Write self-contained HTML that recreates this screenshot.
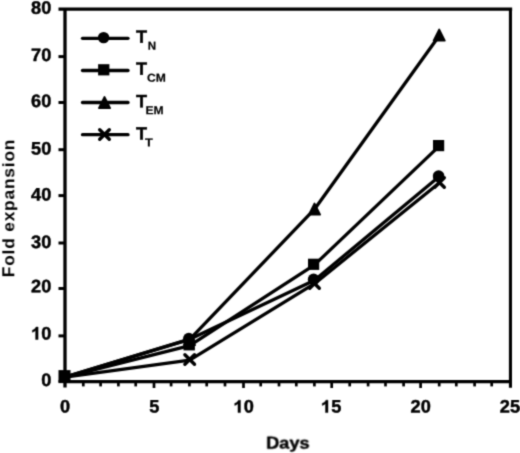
<!DOCTYPE html>
<html>
<head>
<meta charset="utf-8">
<title>Fold expansion</title>
<style>
html,body{margin:0;padding:0;background:#fff;}
body{width:520px;height:453px;overflow:hidden;}
svg{display:block;will-change:transform;opacity:0.999;}
text{font-family:"Liberation Sans",sans-serif;font-weight:bold;fill:#000;stroke:#000;stroke-width:0.45px;stroke-linejoin:round;}
.ax{font-size:17.0px;}
.sub{font-size:11.6px;}
.one{fill:#000;stroke:#000;stroke-width:0.45;stroke-linejoin:round;}
</style>
</head>
<body>
<svg width="520" height="453" viewBox="0 0 520 453">
<defs>
<filter id="soft" x="0" y="0" width="520" height="453" filterUnits="userSpaceOnUse" color-interpolation-filters="sRGB">
  <feFlood flood-color="#fff" result="bg"/>
  <feMerge result="m"><feMergeNode in="bg"/><feMergeNode in="SourceGraphic"/></feMerge>
  <feConvolveMatrix in="m" order="3" kernelMatrix="0.3 1 0.3 1 4 1 0.3 1 0.3" edgeMode="duplicate" preserveAlpha="true"/>
</filter>
</defs>
<g filter="url(#soft)">

<g stroke="#000" stroke-width="3.3" fill="none">
  <path d="M65 9V387.6"/>
  <path d="M58.5 9.15H512.15"/>
  <path stroke-width="3.1" d="M510.45 9V387.8"/>
  <path d="M63.4 381.65H512"/>
</g>
<g stroke="#000" stroke-width="3">
  <path d="M58.5 56.6H65"/>
  <path d="M58.5 102.5H65"/>
  <path d="M58.5 149.7H65"/>
  <path d="M58.5 195.6H65"/>
  <path d="M58.5 243.0H65"/>
  <path d="M58.5 288.5H65"/>
  <path d="M58.5 335.9H65"/>
  <path d="M58.5 381.6H65"/>
</g>
<g stroke="#000" stroke-width="2.7">
  <path d="M83.3 381V386.4"/>
  <path d="M100.6 381V386.4"/>
  <path d="M118.4 381V386.4"/>
  <path d="M135.7 381V386.4"/>
  <path d="M154.0 381V388"/>
  <path d="M171.1 381V386.4"/>
  <path d="M189.4 381V386.4"/>
  <path d="M206.7 381V386.4"/>
  <path d="M225.0 381V386.4"/>
  <path d="M243.5 381V388"/>
  <path d="M260.7 381V386.4"/>
  <path d="M279.0 381V386.4"/>
  <path d="M296.3 381V386.4"/>
  <path d="M314.4 381V386.4"/>
  <path d="M331.7 381V388"/>
  <path d="M349.7 381V386.4"/>
  <path d="M368.1 381V386.4"/>
  <path d="M385.5 381V386.4"/>
  <path d="M403.6 381V386.4"/>
  <path d="M420.6 381V388"/>
  <path d="M439.2 381V386.4"/>
  <path d="M456.3 381V386.4"/>
  <path d="M474.6 381V386.4"/>
  <path d="M491.7 381V386.4"/>
</g>
<g>
<text class="ax" style="font-size:18.0px;letter-spacing:0.248px" transform="translate(30.95 13.85) rotate(0.03) scale(1.01 1)">80</text>
<text class="ax" style="font-size:18.0px;letter-spacing:0.248px" transform="translate(30.95 61.10) rotate(0.03) scale(1.01 1)">70</text>
<text class="ax" style="font-size:18.0px;letter-spacing:0.248px" transform="translate(30.95 107.10) rotate(0.03) scale(1.01 1)">60</text>
<text class="ax" style="font-size:18.0px;letter-spacing:0.248px" transform="translate(30.95 154.60) rotate(0.03) scale(1.01 1)">50</text>
<text class="ax" style="font-size:18.0px;letter-spacing:0.248px" transform="translate(30.95 200.60) rotate(0.03) scale(1.01 1)">40</text>
<text class="ax" style="font-size:18.0px;letter-spacing:0.248px" transform="translate(30.95 248.10) rotate(0.03) scale(1.01 1)">30</text>
<text class="ax" style="font-size:18.0px;letter-spacing:0.248px" transform="translate(30.95 292.35) rotate(0.03) scale(1.01 1)">20</text>
<text class="ax" style="font-size:18.0px;letter-spacing:0.248px" transform="translate(30.95 339.50) rotate(0.03) scale(1.01 1)"><tspan style="fill:none;stroke:none">1</tspan>0</text>
<path class="one" transform="translate(30.95 339.50) scale(0.00888 -0.00846)" d="M806 0H525V1059Q371 915 162 846V1101Q272 1137 401 1237.5Q530 1338 578 1472H806Z" style="stroke-width:51.2"/>
<text class="ax" style="font-size:18.0px;letter-spacing:0.248px" transform="translate(41.31 385.90) rotate(0.03) scale(1.01 1)">0</text>
</g>
<g>
<text class="ax" style="font-size:18.0px;letter-spacing:0.248px" transform="translate(60.05 412.60) rotate(0.03) scale(1.01 1)">0</text>
<text class="ax" style="font-size:18.0px;letter-spacing:0.248px" transform="translate(149.37 412.60) rotate(0.03) scale(1.01 1)">5</text>
<text class="ax" style="font-size:18.0px;letter-spacing:0.248px" transform="translate(233.31 412.60) rotate(0.03) scale(1.01 1)"><tspan style="fill:none;stroke:none">1</tspan>0</text>
<path class="one" transform="translate(233.31 412.60) scale(0.00888 -0.00846)" d="M806 0H525V1059Q371 915 162 846V1101Q272 1137 401 1237.5Q530 1338 578 1472H806Z" style="stroke-width:51.2"/>
<text class="ax" style="font-size:18.0px;letter-spacing:0.248px" transform="translate(320.83 412.60) rotate(0.03) scale(1.01 1)"><tspan style="fill:none;stroke:none">1</tspan>5</text>
<path class="one" transform="translate(320.83 412.60) scale(0.00888 -0.00846)" d="M806 0H525V1059Q371 915 162 846V1101Q272 1137 401 1237.5Q530 1338 578 1472H806Z" style="stroke-width:51.2"/>
<text class="ax" style="font-size:18.0px;letter-spacing:0.248px" transform="translate(410.45 412.60) rotate(0.03) scale(1.01 1)">20</text>
<text class="ax" style="font-size:18.0px;letter-spacing:0.248px" transform="translate(499.67 412.60) rotate(0.03) scale(1.01 1)">25</text>
</g>
<text class="ax" transform="translate(287.9 448.65) rotate(0.03) scale(1.07 1)" text-anchor="middle">Days</text>
<text class="ax" style="font-size:17.3px;letter-spacing:0.84px;stroke-width:0.05px" transform="translate(14.3 208.0) rotate(-90) scale(1.0 1)" text-anchor="middle">Fold expansion</text>
<g stroke="#000" stroke-width="3.3" fill="none" stroke-linejoin="round" stroke-linecap="round">
  <polyline points="65,377.2 189.7,339.2 314.5,280.2 439.2,176.6"/>
  <polyline points="65,377.2 189.7,345.6 314.5,264.9 439.2,146.1"/>
  <polyline points="65,377.2 189.7,339.3 314.5,209.2 439.2,35.8"/>
  <polyline points="65,377.2 189.7,360.1 314.5,283.7 439.5,182.8"/>
</g>
<g fill="#000">
<path stroke="#000" stroke-width="2" stroke-linejoin="round" d="M189.5 334.1L195.0 345.1H184.0Z"/>
<path stroke="#000" stroke-width="2" stroke-linejoin="round" d="M314.5 203.6L320.0 214.6H309.0Z"/>
<path stroke="#000" stroke-width="2" stroke-linejoin="round" d="M439.2 29.6L444.7 40.6H433.7Z"/>
<rect x="58.5" y="370.1" width="12" height="12.3"/>
<rect x="183.5" y="338.8" width="11.4" height="11.6"/>
<rect x="308" y="258.7" width="11.2" height="11.2"/>
<rect x="433" y="140" width="11.2" height="11.2"/>
<circle cx="188.8" cy="338.6" r="5.8"/>
<circle cx="313.6" cy="279.4" r="5.8"/>
<circle cx="438.6" cy="176" r="5.8"/>
</g>
<g stroke="#000" stroke-width="3.4" stroke-linecap="round" fill="none">
<path d="M184.9 354.7L194.5 364.3M194.5 354.7L184.9 364.3"/>
<path d="M309.7 278.7L319.3 288.3M319.3 278.7L309.7 288.3"/>
<path d="M434.7 177.7L444.3 187.3M444.3 177.7L434.7 187.3"/>
<path d="M99.7 129.7L109.3 139.3M109.3 129.7L99.7 139.3"/>
</g>
<g stroke="#000" stroke-width="3.3" stroke-linecap="round" fill="none">
  <path d="M82.5 38.3H128"/>
  <path d="M82.5 70.5H128"/>
  <path d="M82.5 102.5H128"/>
  <path d="M82.5 134.7H128"/>
</g>
<g fill="#000">
<circle cx="103.6" cy="37.6" r="5.7"/>
<rect x="98.1" y="64.2" width="11.3" height="11.2"/>
<path stroke="#000" stroke-width="2" stroke-linejoin="round" d="M104.5 97.1L110.0 108.1H99.0Z"/>
</g>
<text class="ax" style="font-size:17.9px" transform="translate(135.9 42.80) rotate(0.03) scale(1.01 1)">T</text>
<text class="sub" style="stroke-width:0.2px" transform="translate(147.7 49.80) rotate(0.03) scale(1.0 1)">N</text>
<text class="ax" style="font-size:17.9px" transform="translate(135.9 74.80) rotate(0.03) scale(1.01 1)">T</text>
<text class="sub" style="stroke-width:0.2px" transform="translate(147.0 81.80) rotate(0.03) scale(1.045 1)">CM</text>
<text class="ax" style="font-size:17.9px" transform="translate(135.9 107.30) rotate(0.03) scale(1.01 1)">T</text>
<text class="sub" style="stroke-width:0.2px" transform="translate(145.4 114.30) rotate(0.03) scale(1.045 1)">EM</text>
<text class="ax" style="font-size:17.9px" transform="translate(135.9 139.40) rotate(0.03) scale(1.01 1)">T</text>
<text class="sub" style="stroke-width:0.2px" transform="translate(144.9 146.40) rotate(0.03) scale(1.1 1)">T</text>
</g>
</svg>
</body>
</html>
